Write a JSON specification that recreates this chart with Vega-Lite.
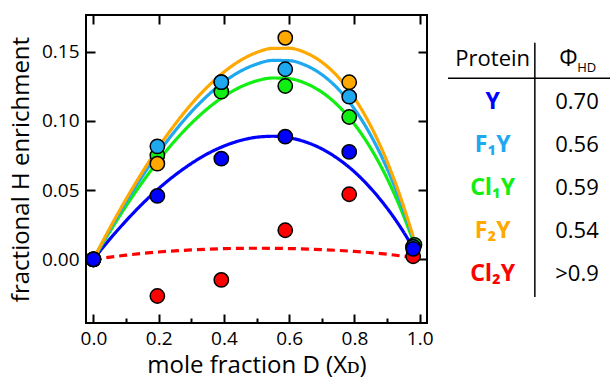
{
  "$schema": "https://vega.github.io/schema/vega-lite/v6.json",
  "autosize": {"type": "pad"},
  "padding": {"left": 8, "top": 13, "right": 0, "bottom": 0},
  "background": "white",
  "config": {
    "font": "Open Sans",
    "view": {"stroke": "black", "strokeWidth": 2},
    "axis": {"grid": false, "domain": false, "tickColor": "black", "tickWidth": 2, "labelColor": "black", "titleColor": "black", "labelFont": "Open Sans", "titleFont": "Open Sans", "labelFontSize": 19, "titleFontSize": 24, "titleFontWeight": "normal", "labelFlush": false}
  },
  "spacing": 12,
  "datasets": {
    "curves": [
      {"protein": "Cl2Y", "x": 0, "y": 0}, {"protein": "Cl2Y", "x": 0.1, "y": 0.003}, {"protein": "Cl2Y", "x": 0.2, "y": 0.0053}, {"protein": "Cl2Y", "x": 0.3, "y": 0.0068}, {"protein": "Cl2Y", "x": 0.4, "y": 0.0077}, {"protein": "Cl2Y", "x": 0.5, "y": 0.008}, {"protein": "Cl2Y", "x": 0.6, "y": 0.0078}, {"protein": "Cl2Y", "x": 0.7, "y": 0.007}, {"protein": "Cl2Y", "x": 0.8, "y": 0.0057}, {"protein": "Cl2Y", "x": 0.9, "y": 0.0037}, {"protein": "Cl2Y", "x": 0.98, "y": 0.0012},
      {"protein": "Y", "x": 0, "y": 0}, {"protein": "Y", "x": 0.05, "y": 0.0145}, {"protein": "Y", "x": 0.1, "y": 0.0278}, {"protein": "Y", "x": 0.15, "y": 0.0401}, {"protein": "Y", "x": 0.2, "y": 0.0511}, {"protein": "Y", "x": 0.25, "y": 0.0608}, {"protein": "Y", "x": 0.3, "y": 0.0692}, {"protein": "Y", "x": 0.35, "y": 0.0763}, {"protein": "Y", "x": 0.4, "y": 0.0818}, {"protein": "Y", "x": 0.45, "y": 0.0858}, {"protein": "Y", "x": 0.5, "y": 0.0882}, {"protein": "Y", "x": 0.55, "y": 0.0889}, {"protein": "Y", "x": 0.6, "y": 0.0878}, {"protein": "Y", "x": 0.65, "y": 0.0848}, {"protein": "Y", "x": 0.7, "y": 0.0798}, {"protein": "Y", "x": 0.75, "y": 0.0726}, {"protein": "Y", "x": 0.8, "y": 0.0632}, {"protein": "Y", "x": 0.85, "y": 0.0513}, {"protein": "Y", "x": 0.9, "y": 0.037}, {"protein": "Y", "x": 0.94, "y": 0.0236}, {"protein": "Y", "x": 0.98, "y": 0.0083},
      {"protein": "Cl1Y", "x": 0, "y": 0}, {"protein": "Cl1Y", "x": 0.05, "y": 0.0199}, {"protein": "Cl1Y", "x": 0.1, "y": 0.0385}, {"protein": "Cl1Y", "x": 0.15, "y": 0.0557}, {"protein": "Cl1Y", "x": 0.2, "y": 0.0715}, {"protein": "Cl1Y", "x": 0.25, "y": 0.0857}, {"protein": "Cl1Y", "x": 0.3, "y": 0.0982}, {"protein": "Cl1Y", "x": 0.35, "y": 0.1089}, {"protein": "Cl1Y", "x": 0.4, "y": 0.1177}, {"protein": "Cl1Y", "x": 0.45, "y": 0.1244}, {"protein": "Cl1Y", "x": 0.5, "y": 0.1289}, {"protein": "Cl1Y", "x": 0.55, "y": 0.131}, {"protein": "Cl1Y", "x": 0.6, "y": 0.1305}, {"protein": "Cl1Y", "x": 0.65, "y": 0.1272}, {"protein": "Cl1Y", "x": 0.7, "y": 0.1208}, {"protein": "Cl1Y", "x": 0.75, "y": 0.111}, {"protein": "Cl1Y", "x": 0.8, "y": 0.0976}, {"protein": "Cl1Y", "x": 0.85, "y": 0.0802}, {"protein": "Cl1Y", "x": 0.9, "y": 0.0585}, {"protein": "Cl1Y", "x": 0.94, "y": 0.0376}, {"protein": "Cl1Y", "x": 0.98, "y": 0.0134},
      {"protein": "F1Y", "x": 0, "y": 0}, {"protein": "F1Y", "x": 0.05, "y": 0.0214}, {"protein": "F1Y", "x": 0.1, "y": 0.0414}, {"protein": "F1Y", "x": 0.15, "y": 0.0601}, {"protein": "F1Y", "x": 0.2, "y": 0.0772}, {"protein": "F1Y", "x": 0.25, "y": 0.0927}, {"protein": "F1Y", "x": 0.3, "y": 0.1065}, {"protein": "F1Y", "x": 0.35, "y": 0.1183}, {"protein": "F1Y", "x": 0.4, "y": 0.1282}, {"protein": "F1Y", "x": 0.45, "y": 0.1358}, {"protein": "F1Y", "x": 0.5, "y": 0.141}, {"protein": "F1Y", "x": 0.55, "y": 0.1437}, {"protein": "F1Y", "x": 0.6, "y": 0.1435}, {"protein": "F1Y", "x": 0.65, "y": 0.1402}, {"protein": "F1Y", "x": 0.7, "y": 0.1335}, {"protein": "F1Y", "x": 0.75, "y": 0.1231}, {"protein": "F1Y", "x": 0.8, "y": 0.1086}, {"protein": "F1Y", "x": 0.85, "y": 0.0896}, {"protein": "F1Y", "x": 0.9, "y": 0.0656}, {"protein": "F1Y", "x": 0.94, "y": 0.0423}, {"protein": "F1Y", "x": 0.98, "y": 0.0152},
      {"protein": "F2Y", "x": 0, "y": 0}, {"protein": "F2Y", "x": 0.05, "y": 0.0224}, {"protein": "F2Y", "x": 0.1, "y": 0.0434}, {"protein": "F2Y", "x": 0.15, "y": 0.063}, {"protein": "F2Y", "x": 0.2, "y": 0.0811}, {"protein": "F2Y", "x": 0.25, "y": 0.0975}, {"protein": "F2Y", "x": 0.3, "y": 0.1121}, {"protein": "F2Y", "x": 0.35, "y": 0.1247}, {"protein": "F2Y", "x": 0.4, "y": 0.1353}, {"protein": "F2Y", "x": 0.45, "y": 0.1436}, {"protein": "F2Y", "x": 0.5, "y": 0.1494}, {"protein": "F2Y", "x": 0.55, "y": 0.1524}, {"protein": "F2Y", "x": 0.6, "y": 0.1525}, {"protein": "F2Y", "x": 0.65, "y": 0.1493}, {"protein": "F2Y", "x": 0.7, "y": 0.1425}, {"protein": "F2Y", "x": 0.75, "y": 0.1317}, {"protein": "F2Y", "x": 0.8, "y": 0.1165}, {"protein": "F2Y", "x": 0.85, "y": 0.0963}, {"protein": "F2Y", "x": 0.9, "y": 0.0707}, {"protein": "F2Y", "x": 0.94, "y": 0.0457}, {"protein": "F2Y", "x": 0.98, "y": 0.0164}
    ],
    "points": [
      {"protein": "Cl2Y", "x": 0, "y": 0}, {"protein": "Cl2Y", "x": 0.196, "y": -0.0265}, {"protein": "Cl2Y", "x": 0.392, "y": -0.0149}, {"protein": "Cl2Y", "x": 0.588, "y": 0.021}, {"protein": "Cl2Y", "x": 0.784, "y": 0.047}, {"protein": "Cl2Y", "x": 0.98, "y": 0.0022},
      {"protein": "Cl1Y", "x": 0, "y": 0}, {"protein": "Cl1Y", "x": 0.196, "y": 0.075}, {"protein": "Cl1Y", "x": 0.392, "y": 0.1211}, {"protein": "Cl1Y", "x": 0.588, "y": 0.1252}, {"protein": "Cl1Y", "x": 0.784, "y": 0.1028}, {"protein": "Cl1Y", "x": 0.984, "y": 0.0105},
      {"protein": "F2Y", "x": 0, "y": 0}, {"protein": "F2Y", "x": 0.196, "y": 0.0691}, {"protein": "F2Y", "x": 0.392, "y": 0.128}, {"protein": "F2Y", "x": 0.588, "y": 0.16}, {"protein": "F2Y", "x": 0.784, "y": 0.1279}, {"protein": "F2Y", "x": 0.98, "y": 0.009},
      {"protein": "F1Y", "x": 0, "y": 0}, {"protein": "F1Y", "x": 0.196, "y": 0.0816}, {"protein": "F1Y", "x": 0.392, "y": 0.128}, {"protein": "F1Y", "x": 0.588, "y": 0.1373}, {"protein": "F1Y", "x": 0.784, "y": 0.1175}, {"protein": "F1Y", "x": 0.98, "y": 0.009},
      {"protein": "Y", "x": 0, "y": 0}, {"protein": "Y", "x": 0.196, "y": 0.0458}, {"protein": "Y", "x": 0.392, "y": 0.0727}, {"protein": "Y", "x": 0.588, "y": 0.0886}, {"protein": "Y", "x": 0.784, "y": 0.0776}, {"protein": "Y", "x": 0.98, "y": 0.0076}
    ],
    "hrule": [{"row": "header"}],
    "vrule": [{"col": "sep", "row": "header", "row2": "Cl2Y"}],
    "header": [{"row": "header", "col": "Protein", "label": "Protein"}],
    "phi": [{"row": "header", "col": "phi", "label": "Φ"}],
    "phisub": [{"row": "header", "col": "phi", "label": "HD"}],
    "names": [
      {"row": "Y", "col": "Protein", "protein": "Y", "label": "Y"},
      {"row": "F1Y", "col": "Protein", "protein": "F1Y", "label": "F₁Y"},
      {"row": "Cl1Y", "col": "Protein", "protein": "Cl1Y", "label": "Cl₁Y"},
      {"row": "F2Y", "col": "Protein", "protein": "F2Y", "label": "F₂Y"},
      {"row": "Cl2Y", "col": "Protein", "protein": "Cl2Y", "label": "Cl₂Y"}
    ],
    "values": [
      {"row": "Y", "col": "phi", "label": "0.70"},
      {"row": "F1Y", "col": "phi", "label": "0.56"},
      {"row": "Cl1Y", "col": "phi", "label": "0.59"},
      {"row": "F2Y", "col": "phi", "label": "0.54"},
      {"row": "Cl2Y", "col": "phi", "label": ">0.9"}
    ]
  },
  "hconcat": [
    {
      "width": 341,
      "height": 308,
      "layer": [
        {
          "data": {"name": "curves"},
          "mark": {"type": "line", "strokeWidth": 3.2, "interpolate": "monotone"},
          "encoding": {
            "x": {"field": "x", "type": "quantitative", "scale": {"domain": [-0.0227, 1.0224], "nice": false, "zero": false},
              "axis": {"orient": "bottom", "values": [0, 0.1, 0.2, 0.3, 0.4, 0.5, 0.6, 0.7, 0.8, 0.9, 1.0],
                "tickSize": {"condition": {"test": "round(datum.value*10)%2==1", "value": -5}, "value": -9},
                "labelExpr": "round(datum.value*10)%2==1 ? '' : format(datum.value, '.1f')",
                "labelPadding": 15, "title": "mole fraction D (Xᴅ)", "titlePadding": 5}},
            "y": {"field": "y", "type": "quantitative", "scale": {"domain": [-0.046, 0.1765], "nice": false, "zero": false},
              "axis": {"orient": "left", "values": [0, 0.05, 0.1, 0.15], "format": ".2f", "tickSize": -9, "labelPadding": 16, "title": "fractional H enrichment", "titlePadding": 8}},
            "color": {"field": "protein", "type": "nominal", "scale": {"domain": ["Y", "F1Y", "Cl1Y", "F2Y", "Cl2Y"], "range": ["#0000ff", "#1ea8f0", "#11ee11", "#ffa800", "#ff0000"]}, "legend": null},
            "strokeDash": {"field": "protein", "type": "nominal", "scale": {"domain": ["Y", "F1Y", "Cl1Y", "F2Y", "Cl2Y"], "range": [[1, 0], [1, 0], [1, 0], [1, 0], [8, 5]]}, "legend": null}
          }
        },
        {
          "data": {"name": "points"},
          "mark": {"type": "point", "filled": true, "size": 205, "stroke": "black", "strokeWidth": 1.5, "opacity": 1},
          "encoding": {
            "x": {"field": "x", "type": "quantitative",
              "axis": {"orient": "top", "values": [0, 0.2, 0.4, 0.6, 0.8, 1.0], "tickSize": -9, "labels": false, "title": null}},
            "y": {"field": "y", "type": "quantitative",
              "axis": {"orient": "right", "values": [0, 0.05, 0.1, 0.15], "tickSize": -9, "labels": false, "title": null}},
            "color": {"field": "protein", "type": "nominal", "legend": null}
          }
        }
      ],
      "resolve": {"axis": {"x": "independent", "y": "independent"}}
    },
    {
      "width": 163,
      "height": 308,
      "view": {"stroke": null},
      "encoding": {
        "x": {"field": "col", "type": "nominal", "scale": {"type": "point", "padding": 0, "domain": ["Protein", "sep", "phi"], "range": [44.7, 129]}, "axis": null},
        "y": {"field": "row", "type": "nominal", "scale": {"type": "point", "padding": 0, "domain": ["header", "Y", "F1Y", "Cl1Y", "F2Y", "Cl2Y"], "range": [43.5, 259.3]}, "axis": null}
      },
      "layer": [
        {"data": {"name": "hrule"}, "mark": {"type": "rule", "strokeWidth": 1.5, "color": "black", "yOffset": 19.8},
          "encoding": {"x": null}},
        {"data": {"name": "vrule"}, "mark": {"type": "rule", "strokeWidth": 1.5, "color": "black", "yOffset": -15.8, "y2Offset": 22.7},
          "encoding": {"y2": {"field": "row2"}}},
        {"data": {"name": "header"}, "mark": {"type": "text", "fontSize": 22, "font": "Open Sans", "color": "black", "baseline": "middle"},
          "encoding": {"text": {"field": "label"}}},
        {"data": {"name": "phi"}, "mark": {"type": "text", "fontSize": 23, "font": "Open Sans", "color": "black", "baseline": "middle", "dx": -8.5},
          "encoding": {"text": {"field": "label"}}},
        {"data": {"name": "phisub"}, "mark": {"type": "text", "fontSize": 13, "font": "Open Sans", "color": "black", "baseline": "middle", "dx": 9.7, "dy": 9},
          "encoding": {"text": {"field": "label"}}},
        {"data": {"name": "names"}, "mark": {"type": "text", "fontSize": 23, "font": "Noto Sans", "fontWeight": "bold", "baseline": "middle"},
          "encoding": {"text": {"field": "label"}, "color": {"field": "protein", "type": "nominal", "legend": null}}},
        {"data": {"name": "values"}, "mark": {"type": "text", "fontSize": 22, "font": "Open Sans", "color": "black", "baseline": "middle"},
          "encoding": {"text": {"field": "label"}}}
      ]
    }
  ]
}
